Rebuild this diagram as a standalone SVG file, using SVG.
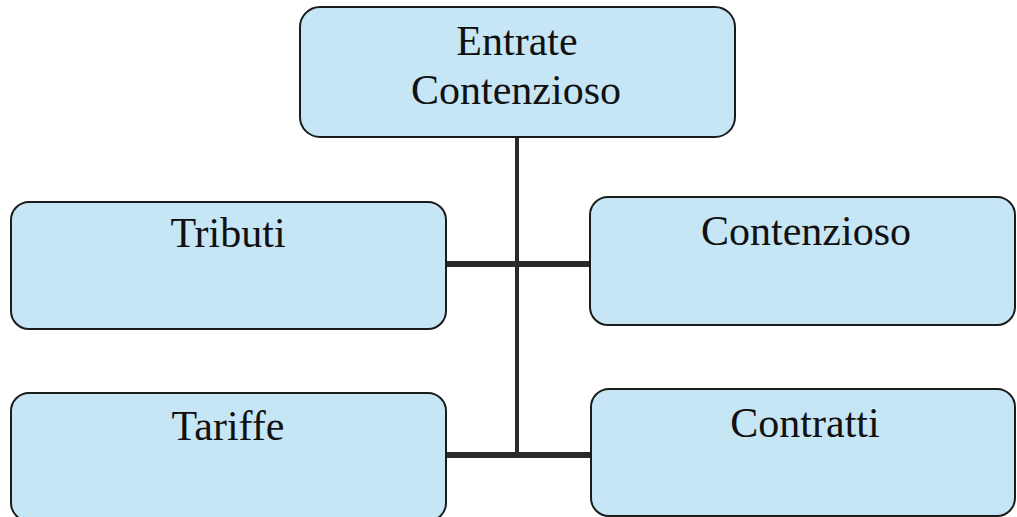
<svg xmlns="http://www.w3.org/2000/svg" width="1017" height="517" viewBox="0 0 1017 517">
  <style>
    .box { fill: #c6e6f6; stroke: #1c1c1c; stroke-width: 2; }
    .lbl { font-family: "Liberation Serif", "Times New Roman", serif; font-size: 42px; fill: #111; text-anchor: middle; }
    .conn { stroke: #2a2a2a; fill: none; }
  </style>
  <rect width="1017" height="517" fill="#ffffff"/>
  <g id="connectors">
    <line class="conn" x1="517" y1="137" x2="517" y2="453" stroke-width="4"/>
    <line class="conn" x1="446" y1="264" x2="590" y2="264" stroke-width="6"/>
    <line class="conn" x1="446" y1="455" x2="591" y2="455" stroke-width="6"/>
  </g>
  <g id="node-entrate">
    <rect class="box" x="300" y="7" width="435" height="130" rx="20"/>
    <text class="lbl" x="517" y="55">Entrate</text>
    <text class="lbl" x="516" y="104">Contenzioso</text>
  </g>
  <g id="node-tributi">
    <rect class="box" x="11" y="202" width="435" height="127" rx="18"/>
    <text class="lbl" x="228" y="247">Tributi</text>
  </g>
  <g id="node-contenzioso">
    <rect class="box" x="590" y="197" width="425" height="128" rx="18"/>
    <text class="lbl" x="806" y="245">Contenzioso</text>
  </g>
  <g id="node-tariffe">
    <rect class="box" x="11" y="393" width="435" height="128" rx="18"/>
    <text class="lbl" x="228" y="440">Tariffe</text>
  </g>
  <g id="node-contratti">
    <rect class="box" x="591" y="389" width="424" height="127" rx="18"/>
    <text class="lbl" x="805" y="437">Contratti</text>
  </g>
</svg>
